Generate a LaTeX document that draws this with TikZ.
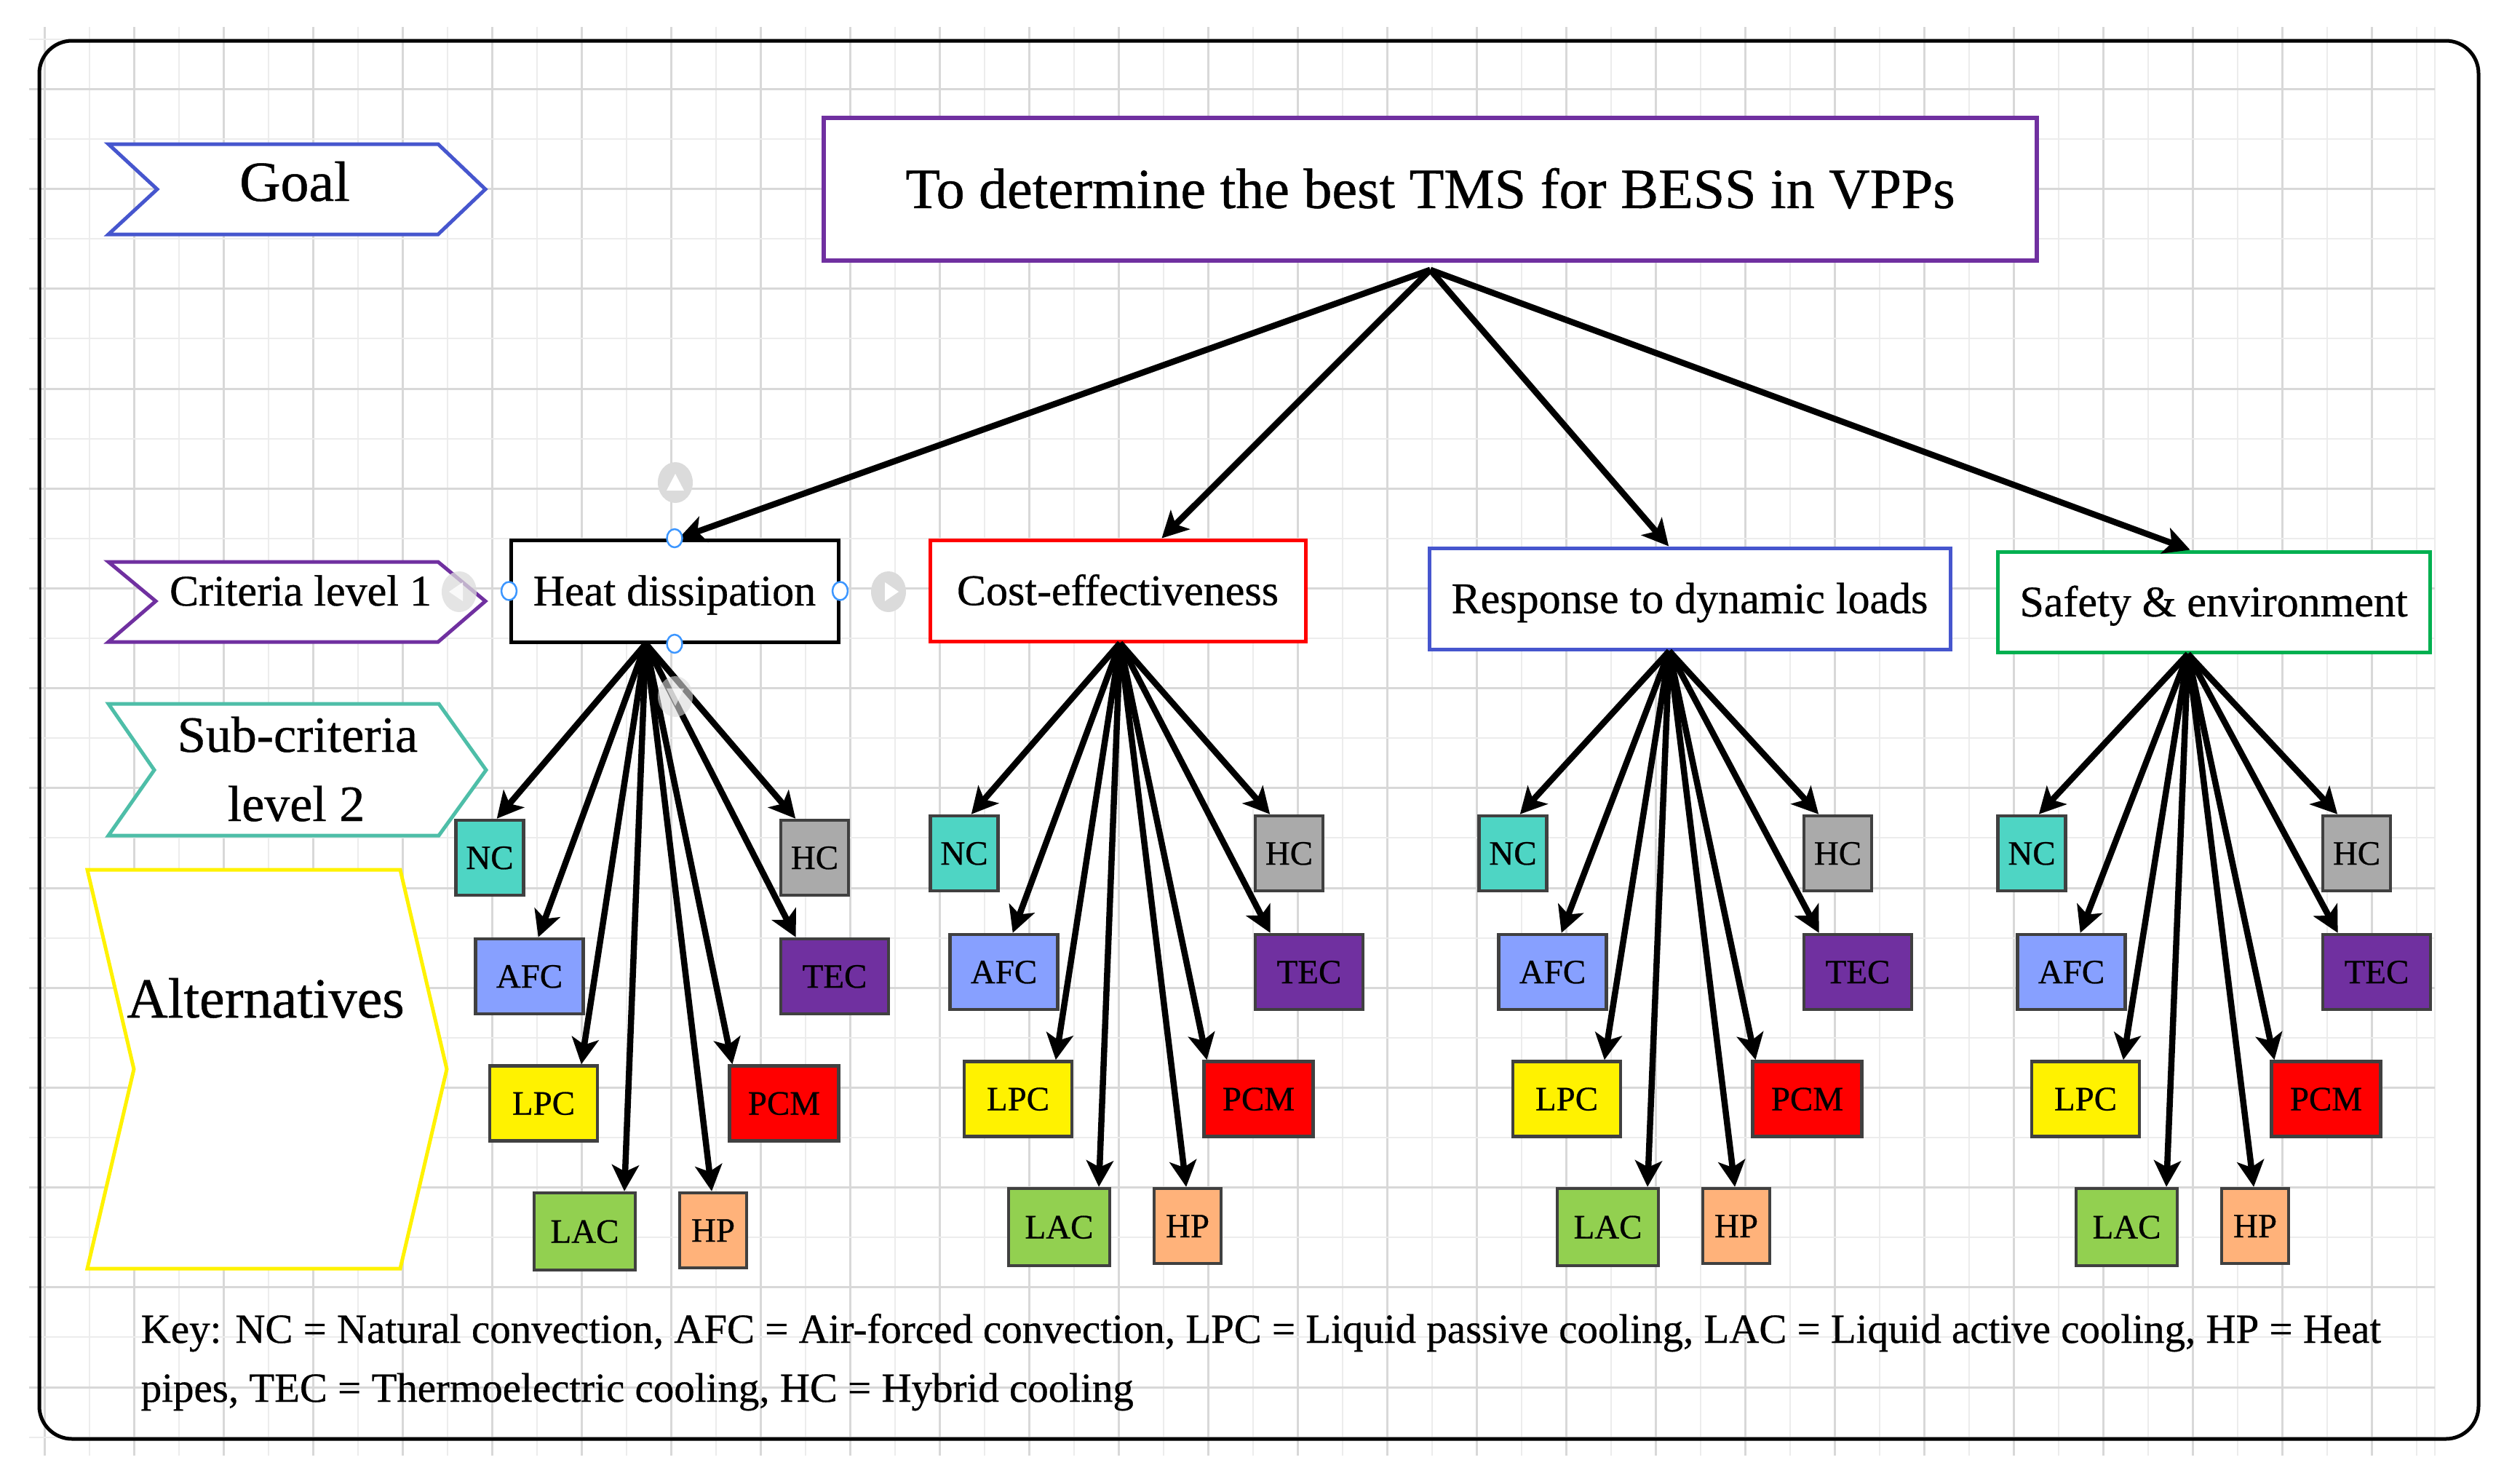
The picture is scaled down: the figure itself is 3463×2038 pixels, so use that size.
\documentclass[tikz,border=0pt]{standalone}
\usepackage{fontspec}
\setmainfont[UprightFeatures={FakeBold=0.6}]{Liberation Serif}
\usetikzlibrary{arrows.meta,calc}
\definecolor{goalblue}{RGB}{70,86,206}
\definecolor{ppl}{RGB}{112,48,160}
\definecolor{tealc}{RGB}{78,190,168}
\definecolor{segreen}{RGB}{0,176,80}
\definecolor{cNC}{RGB}{78,213,196}
\definecolor{cHC}{RGB}{170,170,170}
\definecolor{cAFC}{RGB}{135,160,255}
\definecolor{cTEC}{RGB}{112,48,160}
\definecolor{cLAC}{RGB}{146,208,80}
\definecolor{cHP}{RGB}{255,178,122}
\definecolor{boxgray}{RGB}{64,64,64}
\definecolor{gridD}{RGB}{216,216,216}
\definecolor{gridL}{RGB}{236,236,236}
\definecolor{handleblue}{RGB}{60,150,255}
\newcommand\ftitle{\fontsize{22.2pt}{26pt}\selectfont}
\newcommand\fsubc{\fontsize{19.9pt}{24pt}\selectfont}
\newcommand\fcrit{\fontsize{17.07pt}{20pt}\selectfont}
\newcommand\falt{\fontsize{13.37pt}{16pt}\selectfont}
\newcommand\fkey{\fontsize{16.2pt}{20pt}\selectfont}
\begin{document}
\begin{tikzpicture}[x=0.1mm,y=-0.1mm,
  crit/.style={draw, line width=0.5mm, fill=white, rectangle, inner sep=0pt,
    font=\fcrit, text height=3.97mm, text depth=0pt, minimum height=14mm},
  altbox/.style={draw=boxgray, line width=0.45mm, rectangle, inner sep=0pt,
    font=\falt, text height=3.11mm, text depth=0pt, minimum height=10.3mm},
  arr/.style={line width=0.85mm, -{Stealth[length=3.6mm,width=3.7mm,inset=0.9mm]}},
  chev/.style={line width=0.5mm, fill=white, line join=miter},
  gD/.style={draw=gridD, line width=0.3mm},
  gL/.style={draw=gridL, line width=0.2mm},
  handle/.style={draw=handleblue, fill=white, line width=0.25mm},
  lbl/.style={anchor=base, inner sep=0pt}
]
\useasboundingbox (0,0) rectangle (3463,2038);
\fill[white] (0,0) rectangle (3463,2038);
% grid
\foreach \n in {1,3,...,53} \draw[gL] ({61.2+61.5*\n},37) -- ({61.2+61.5*\n},2000);
\foreach \n in {0,2,...,52} \draw[gD] ({61.2+61.5*\n},37) -- ({61.2+61.5*\n},2000);
\draw[gL] (3346,37) -- (3346,2000);
\foreach \n in {-1,1,...,27} \draw[gL] (40,{122.4+68.6*\n}) -- (3346,{122.4+68.6*\n});
\foreach \n in {0,2,...,26} \draw[gD] (40,{122.4+68.6*\n}) -- (3346,{122.4+68.6*\n});
% outer frame
\draw[line width=0.5mm, rounded corners=4.5mm] (54,56) rectangle (3406,1977);

% legend chevrons
\draw[chev, draw=goalblue] (149,198) -- (602,198) -- (667,260) -- (602,322) -- (149,322) -- (216,260) -- cycle;
\node[lbl, font=\ftitle] (goaltxt) at (405,276) {Goal};
\draw[chev, draw=ppl] (149,772) -- (602,772) -- (667,826) -- (602,882) -- (149,882) -- (214,826) -- cycle;
\node[lbl, font=\fcrit] (crittxt) at (413,832) {Criteria level 1};
\draw[chev, draw=tealc] (149,967) -- (603,967) -- (668,1058) -- (603,1148) -- (149,1148) -- (212,1058) -- cycle;
\node[lbl, font=\fsubc] (subtxt1) at (409,1033) {Sub-criteria};
\node[lbl, font=\fsubc] (subtxt2) at (407,1128) {level 2};
\draw[chev, draw=yellow] (120,1195) -- (550,1195) -- (614,1469) -- (550,1743) -- (120,1743) -- (184,1469) -- cycle;
\node[lbl, font=\ftitle] (alttxt) at (365,1398) {Alternatives};

% goal box
\node[draw=ppl, line width=0.55mm, fill=white, rectangle, inner sep=0pt,
  minimum width=166.7mm, minimum height=19.6mm, font=\ftitle,
  text height=5.16mm, text depth=0pt] (title) at (1965.5,260) {To determine the best TMS for BESS in VPPs};

% criteria level 1
\node[crit, minimum width=45mm] (hd) at (927,812) {Heat dissipation};
\node[crit, draw=red, minimum width=51.6mm, minimum height=13.9mm] (ce) at (1536,811.5) {Cost-effectiveness};
\node[crit, draw=goalblue, minimum width=71.6mm, minimum height=13.9mm] (rd) at (2322,822.5) {Response to dynamic loads};
\node[crit, draw=segreen, minimum width=59.4mm, minimum height=13.8mm] (se) at (3042,827) {Safety \& environment};

\draw[arr] ($(title.south)+(0,10)$) -- ($(hd.north west)!0.513!(hd.north east)$);
\draw[arr] ($(title.south)+(0,10)$) -- ($(ce.north west)!0.616!(ce.north east)$);
\draw[arr] ($(title.south)+(0,10)$) -- ($(rd.north west)!0.46!(rd.north east)$);
\draw[arr] ($(title.south)+(0,10)$) -- ($(se.north west)!0.446!(se.north east)$);

% alternatives
\foreach \gi/\dx/\dy/\src/\fr in {1/0/0/hd/0.413, 2/652/-6/ce/0.506, 3/1406/-6/rd/0.461, 4/2119/-6/se/0.441} {
  \node[altbox, fill=cNC, minimum width=9.3mm] (NC\gi) at ({673+\dx},{1178.5+\dy}) {NC};
  \node[altbox, fill=cHC, minimum width=9.3mm] (HC\gi) at ({1119.5+\dx},{1178.5+\dy}) {HC};
  \node[altbox, fill=cAFC, minimum width=14.8mm] (AFC\gi) at ({727.5+\dx},{1341.5+\dy}) {AFC};
  \node[altbox, fill=cTEC, minimum width=14.8mm] (TEC\gi) at ({1147+\dx},{1341.5+\dy}) {TEC};
  \node[altbox, fill=yellow, minimum width=14.8mm] (LPC\gi) at ({747+\dx},{1516+\dy}) {LPC};
  \node[altbox, fill=red, minimum width=15mm] (PCM\gi) at ({1077.5+\dx},{1516+\dy}) {PCM};
  \node[altbox, fill=cLAC, minimum width=13.9mm, minimum height=10.6mm] (LAC\gi) at ({803.5+\dx},{1692+\dy}) {LAC};
  \node[altbox, fill=cHP, minimum width=9.2mm] (HP\gi) at ({980+\dx},{1690.5+\dy}) {HP};
  \foreach \tn/\pp in {NC/0.6, HC/0.23, AFC/0.58, TEC/0.15, LPC/0.84, PCM/0.04, LAC/0.88, HP/0.48}
    \draw[arr] ($(\src.south west)!\fr!(\src.south east)$) -- ($(\tn\gi.north west)!\pp!(\tn\gi.north east)$);
}

% key
\node[anchor=base west, inner sep=0pt, font=\fkey] (key1) at (193,1845) {Key: NC = Natural convection, AFC = Air-forced convection, LPC = Liquid passive cooling, LAC = Liquid active cooling, HP = Heat};
\node[anchor=base west, inner sep=0pt, font=\fkey] (key2) at (193,1926) {pipes, TEC = Thermoelectric cooling, HC = Hybrid cooling};

% selection handles (editor artefacts)
\fill[gray!28] (928,663) ellipse [x radius=2.4mm, y radius=2.8mm];
\fill[white] (928,651) -- (916,674) -- (940,674) -- cycle;
\fill[gray!28] (1221,813) ellipse [x radius=2.4mm, y radius=2.8mm];
\fill[white] (1235,813) -- (1216,800) -- (1216,826) -- cycle;
\fill[gray!28, opacity=0.75] (631,813) ellipse [x radius=2.4mm, y radius=2.8mm];
\fill[white, opacity=0.8] (617,813) -- (636,800) -- (636,826) -- cycle;
\fill[gray!28, opacity=0.6] (928,957) ellipse [x radius=2.4mm, y radius=2.8mm];
\fill[white, opacity=0.6] (928,970) -- (916,946) -- (940,946) -- cycle;
\foreach \a in {north,south,east,west}
  \draw[handle] (hd.\a) ellipse [x radius=1.05mm, y radius=1.25mm];
\end{tikzpicture}
\end{document}
